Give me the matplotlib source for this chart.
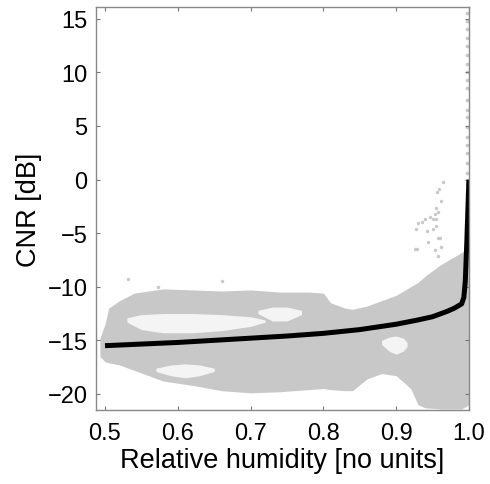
import matplotlib
matplotlib.use("Agg")
import matplotlib.pyplot as plt

plt.rcParams['font.family'] = ['Liberation Sans', 'DejaVu Sans']

# Fitted curve
fit_x = [0.50, 0.55, 0.60, 0.65, 0.70, 0.75, 0.80, 0.85, 0.90, 0.93, 0.95, 0.97,
         0.98, 0.99, 0.993, 0.995, 0.997, 0.999, 1.0]
fit_y = [-15.5, -15.35, -15.2, -15.0, -14.8, -14.6, -14.35, -14.0, -13.5, -13.1,
         -12.8, -12.3, -12.0, -11.6, -11.0, -9.5, -6.0, -2.0, 0.0]

# Dense measurement cloud: outer envelope
cloud_x = [0.493, 0.50, 0.505, 0.52, 0.54, 0.56, 0.58, 0.62, 0.66, 0.70, 0.74,
           0.78, 0.80, 0.81, 0.83, 0.84, 0.86, 0.88, 0.90, 0.92, 0.93, 0.94,
           0.96, 0.98, 0.99, 1.0]
cloud_hi = [-14.8, -13.5, -12.0, -11.3, -10.6, -10.4, -10.2, -10.3, -10.4,
            -10.3, -10.5, -10.5, -10.6, -11.5, -12.0, -12.1, -11.8, -11.3,
            -10.8, -10.0, -9.6, -9.0, -8.0, -7.2, -6.8, -6.5]
cloud_lo = [-16.5, -17.0, -17.1, -17.3, -17.8, -18.3, -18.8, -19.2, -19.7,
            -19.9, -19.8, -19.6, -19.5, -19.6, -19.7, -19.7, -18.6, -18.1,
            -18.3, -19.5, -21.0, -21.3, -21.4, -21.4, -21.4, -21.0]

# White gaps inside the cloud (x, top, bottom)
gap1_x = [0.53, 0.55, 0.58, 0.62, 0.66, 0.70, 0.72]
gap1_hi = [-12.9, -12.6, -12.5, -12.5, -12.6, -12.8, -13.1]
gap1_lo = [-13.3, -14.0, -14.3, -14.3, -14.1, -13.7, -13.3]

gap2_x = [0.57, 0.59, 0.61, 0.63, 0.65]
gap2_hi = [-17.6, -17.3, -17.2, -17.3, -17.6]
gap2_lo = [-17.9, -18.3, -18.5, -18.3, -17.9]

gap3_x = [0.71, 0.73, 0.75, 0.77]
gap3_hi = [-12.2, -11.9, -11.9, -12.2]
gap3_lo = [-12.5, -13.2, -13.2, -12.6]

gap4_x = [0.88, 0.89, 0.90, 0.91, 0.915]
gap4_hi = [-15.0, -14.7, -14.6, -14.8, -15.2]
gap4_lo = [-15.4, -16.0, -16.3, -16.0, -15.6]

# Scattered outliers
out_x = [0.532, 0.573, 0.661, 0.964, 0.959, 0.956, 0.962, 0.955, 0.953, 0.946,
         0.940, 0.935, 0.930, 0.927, 0.955, 0.955, 0.951, 0.942, 0.958, 0.962,
         0.928, 0.953, 0.958, 0.958, 0.926, 0.944, 0.960, 0.951]
out_y = [-9.25, -10.0, -9.5, -0.2, -0.9, -1.2, -2.0, -2.7, -3.2, -3.5, -3.7,
         -4.0, -4.1, -4.6, -3.7, -4.3, -4.6, -4.8, -5.5, -6.3, -6.5, -6.6,
         -7.1, -3.0, -6.5, -5.8, -5.5, -3.7]

# Column of points at saturation
col_x = [0.997] * 27
col_y = [15.5, 14.8, 14.0, 13.2, 12.5, 11.6, 10.8, 10.0, 9.3, 8.5, 7.4, 6.5,
         5.8, 4.9, 4.0, 3.2, 2.5, 1.5, 0.6, -0.4, -1.3, -2.2, -3.0, -4.0, -5.0,
         -6.0, -7.0]

x_ticks = [0.5, 0.6, 0.7, 0.8, 0.9, 1.0]
x_ticklabels = ['0.5', '0.6', '0.7', '0.8', '0.9', '1.0']
y_ticks = [-20, -15, -10, -5, 0, 5, 10, 15]

grey = '#c8c8c8'

fig = plt.figure(figsize=(4.9, 4.85), dpi=100)
ax = fig.add_axes([0.196, 0.1526, 0.761, 0.831])

ax.fill_between(cloud_x, cloud_lo, cloud_hi, color=grey, lw=0)
for gx, gh, gl in [(gap1_x, gap1_hi, gap1_lo), (gap2_x, gap2_hi, gap2_lo),
                   (gap3_x, gap3_hi, gap3_lo), (gap4_x, gap4_hi, gap4_lo)]:
    ax.fill_between(gx, gl, gh, color='#f4f4f4', lw=0)
ax.scatter(out_x, out_y, s=6, color=grey, lw=0)
ax.scatter(col_x, col_y, s=7, color=grey, lw=0, clip_on=False)

ax.plot(fit_x, fit_y, color='black', lw=3.6, solid_capstyle='butt')

ax.set_xlim(0.4877, 1.0)
ax.set_ylim(-21.5, 16.1)
ax.set_xticks(x_ticks)
ax.set_xticklabels(x_ticklabels)
ax.set_yticks(y_ticks)
ax.tick_params(direction='in', length=3, width=0.8, color='#777777',
               top=True, right=True, labelsize=17, pad=6)
ax.tick_params(axis='x', pad=9)
for s in ax.spines.values():
    s.set_color('#888888')
    s.set_linewidth(1.0)

ax.set_xlabel('Relative humidity [no units]', fontsize=19.5, labelpad=2)
ax.set_ylabel('CNR [dB]', fontsize=19.5, labelpad=4)

fig.savefig('out.png', dpi=100)
